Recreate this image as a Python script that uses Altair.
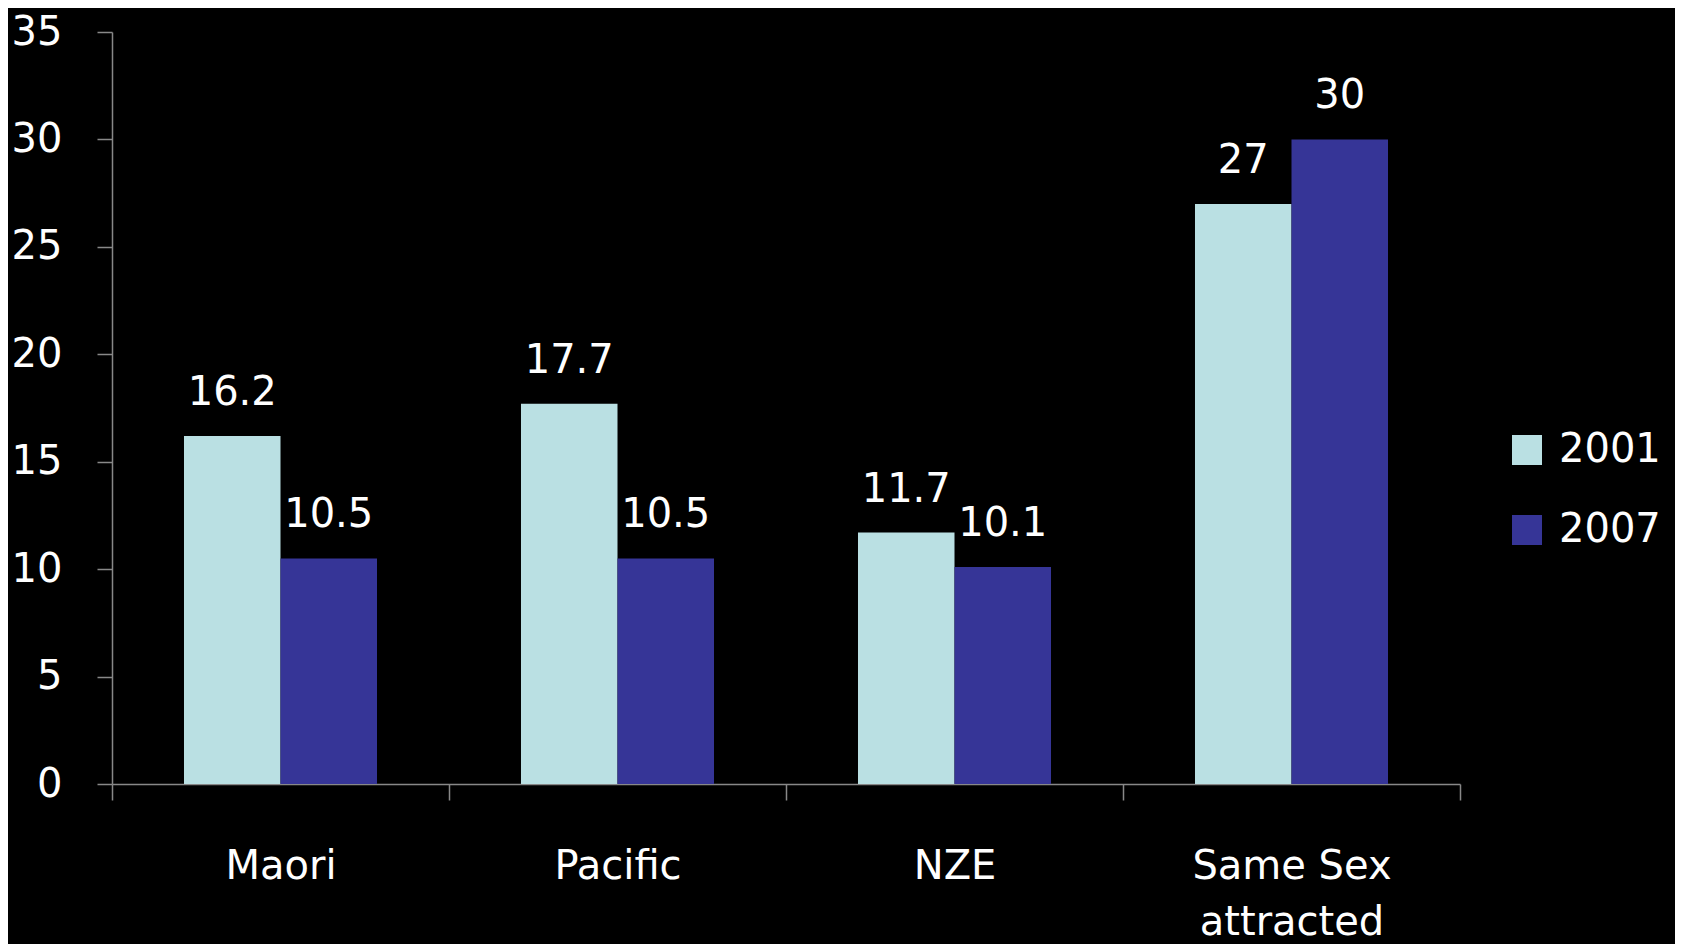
import altair as alt
import pandas as pd

categories = ["Maori", "Pacific", "NZE", "Same Sex attracted"]
years = ["2001", "2007"]
values_2001 = [16.2, 17.7, 11.7, 27]
values_2007 = [10.5, 10.5, 10.1, 30]
colors = ["#BAE0E3", "#363597"]

rows = []
for c, a, b in zip(categories, values_2001, values_2007):
    rows.append({"cat": c, "year": "2001", "value": a, "lbl": f"{a:g}"})
    rows.append({"cat": c, "year": "2007", "value": b, "lbl": f"{b:g}"})
df = pd.DataFrame(rows)

FONT = "DejaVu Sans"

x = alt.X("cat:N", sort=categories, title=None,
          scale=alt.Scale(paddingInner=0, paddingOuter=0),
          axis=alt.Axis(labelAngle=0, labelFontSize=40, labelColor="white", labelFont=FONT,
                        labelExpr="datum.label == 'Same Sex attracted' ? ['Same Sex', 'attracted'] : datum.label",
                        labelLineHeight=56, labelPadding=46, labelLimit=0, tickBand="extent", tickSize=16,
                        tickColor="#888888", tickWidth=1.5, domainColor="#888888", domainWidth=1.5,
                        labelBaseline="top"))
xo = alt.XOffset("year:N", sort=years, scale=alt.Scale(paddingOuter=0.746, paddingInner=0))
y = alt.Y("value:Q", title=None,
          scale=alt.Scale(domain=[0, 35], nice=False),
          axis=alt.Axis(values=[0, 5, 10, 15, 20, 25, 30, 35], grid=False, labelFontSize=40,
                        labelColor="white", labelFont=FONT, labelPadding=35, tickSize=15,
                        tickColor="#888888", tickWidth=1.5, domainColor="#888888", domainWidth=1.5))
color = alt.Color("year:N", sort=years, scale=alt.Scale(domain=years, range=colors),
                  legend=alt.Legend(title=None, orient="none", legendX=1395, legendY=398,
                                    symbolType="square", symbolSize=900, symbolStrokeWidth=0,
                                    labelFontSize=40, labelColor="white", labelFont=FONT,
                                    labelOffset=12, rowPadding=40, padding=0))

bars = alt.Chart(df).mark_bar(strokeWidth=0).encode(x=x, xOffset=xo, y=y, color=color)
text = alt.Chart(df).mark_text(baseline="bottom", dy=-23, fontSize=40, color="white", font=FONT).encode(
    x=alt.X("cat:N", sort=categories), xOffset=xo, y="value:Q", text="lbl:N")

chart = alt.layer(bars, text).properties(
    width=1348, height=752, background="black",
    autosize=alt.AutoSizeParams(type="none"),
    padding={"left": 104, "top": 24, "right": 215, "bottom": 160},
).configure_view(stroke=None)

chart.save("out.html", embed_options={"renderer": "svg", "actions": False})
